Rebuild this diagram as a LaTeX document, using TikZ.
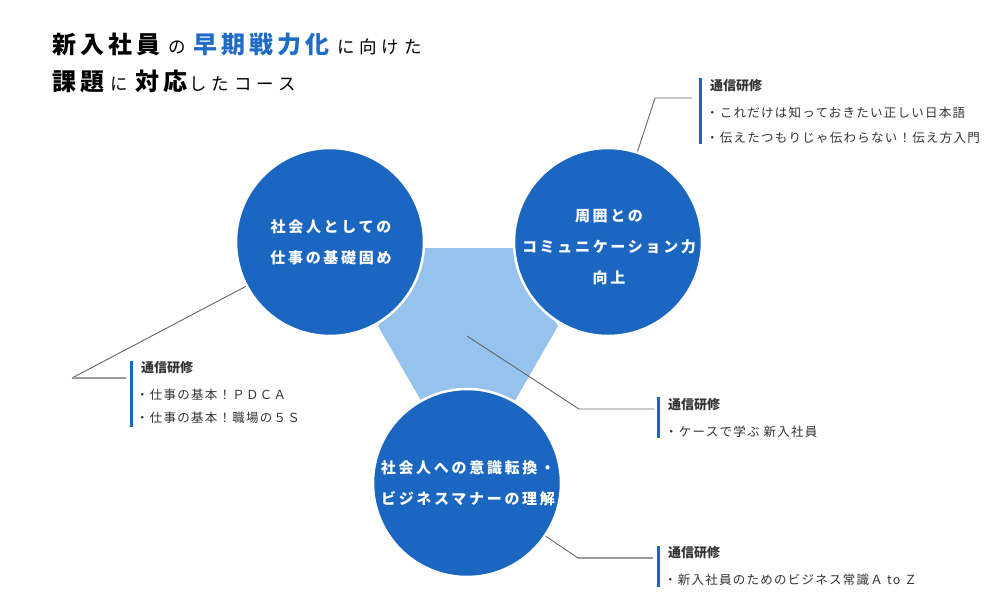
\documentclass[tikz,border=0pt]{standalone}
\usepackage{fontspec}
\setmainfont{Noto Sans CJK JP}
\newfontfamily\jpfont{Noto Sans CJK JP}
\newfontfamily\jpsp[LetterSpace=10]{Noto Sans CJK JP}
\newfontfamily\jpcirc[LetterSpace=18]{Noto Sans CJK JP}
\newfontfamily\jpbig[LetterSpace=17]{Noto Sans CJK JP}
\newfontfamily\jpsmall[LetterSpace=28]{Noto Sans CJK JP}
\usetikzlibrary{calc}
\definecolor{cblue}{HTML}{1B66C1}
\definecolor{hexblue}{HTML}{96C2EE}
\definecolor{tblue}{HTML}{1F6CC8}
\definecolor{txt}{HTML}{333333}
\definecolor{ldark}{HTML}{666666}
\definecolor{llight}{HTML}{9A9A9A}
\newcommand{\bigt}[1]{{\jpbig\bfseries\fontsize{24}{24}\selectfont #1}}
\newcommand{\smallt}[1]{{\jpsmall\fontsize{17.5}{17.5}\selectfont #1}}
\begin{document}
\begin{tikzpicture}[x=1pt,y=-1pt,
 circ/.style={circle, fill=cblue, draw=white, line width=2.5pt, minimum size=188pt, inner sep=0pt},
 ctext/.style={text=white, align=center, font=\jpcirc\bfseries\fontsize{15}{31}\selectfont, inner sep=0pt},
 head/.style={anchor=west, text=txt, font=\jpfont\bfseries\fontsize{13}{13}\selectfont, inner sep=0pt},
 item/.style={anchor=west, text=txt, font=\jpsp\fontsize{12.5}{12.5}\selectfont, inner sep=0pt},
 bar/.style={draw=cblue, line width=3pt},
 conn/.style={draw=ldark, line width=0.9pt},
 connl/.style={draw=llight, line width=1.2pt},
]
\useasboundingbox[fill=white] (0,0) rectangle (1000,600);

% title
\node[anchor=west, inner sep=0pt] (title1) at (52,44) {\bigt{新入社員}\hspace{8.2pt}\smallt{の}\hspace{7pt}\textcolor{tblue}{\bigt{早期戦力化}}\hspace{7.6pt}\smallt{に向けた}};
\node[anchor=west, inner sep=0pt] (title2) at (52,81) {\bigt{課題}\hspace{6.3pt}\smallt{に}\hspace{7pt}\bigt{対応}\hspace{2.3pt}\smallt{したコース}};

% hexagon
\fill[hexblue] (558,326) -- (513,248) -- (423,248) -- (378,326) -- (423,404) -- (513,404) -- cycle;

% circles
\node[circ] (c1) at (330,242) {};
\node[circ] (c2) at (608,242) {};
\node[circ] (c3) at (467,483) {};
\node[ctext] (t1) at (331,242) {社会人としての\\仕事の基礎固め};
\node[ctext] (t2) at (609,247) {周囲との\\コミュニケーション力\\向上};
\node[ctext] (t3) at (468,483) {社会人への意識転換・\\ビジネスマナーの理解};

% connectors
\coordinate (e1) at (72,378);
\coordinate (h1) at (126,378);
\draw[conn] (c1) -- (e1);
\draw[connl] (e1) -- (h1);

\coordinate (e2) at (655,98);
\coordinate (h2) at (692,98);
\draw[conn] (c2) -- (e2) -- (h2);

\coordinate (s3) at (467,336);
\coordinate (e3) at (579,409);
\coordinate (h3) at (654,409);
\draw[conn] (s3) -- (e3) -- (h3);

\coordinate (e4) at (578,558);
\coordinate (h4) at (653,558);
\draw[conn] (c3) -- (e4);
\draw[connl] (e4) -- (h4);

% bars
\coordinate (b1a) at (700,78);   \coordinate (b1b) at (700,144);
\coordinate (b2a) at (131.5,361); \coordinate (b2b) at (131.5,427);
\coordinate (b3a) at (658.5,397); \coordinate (b3b) at (658.5,438);
\coordinate (b4a) at (658.5,546); \coordinate (b4b) at (658.5,587);
\draw[bar] (b1a) -- (b1b);
\draw[bar] (b2a) -- (b2b);
\draw[bar] (b3a) -- (b3b);
\draw[bar] (b4a) -- (b4b);

% labels
\node[head] (l1h) at (710,86) {通信研修};
\node[item] (l1a) at (706,113) {・これだけは知っておきたい正しい日本語};
\node[item] (l1b) at (706,138) {・伝えたつもりじゃ伝わらない！伝え方入門};

\node[head] (l2h) at (141,368) {通信研修};
\node[item] (l2a) at (136,395) {・仕事の基本！ＰＤＣＡ};
\node[item] (l2b) at (136,418) {・仕事の基本！職場の５Ｓ};

\node[head] (l3h) at (668,405) {通信研修};
\node[item] (l3a) at (665,432) {・ケースで学ぶ 新入社員};

\node[head] (l4h) at (668,553) {通信研修};
\node[item] (l4a) at (664,580) {・新入社員のためのビジネス常識Ａ to Ｚ};
\end{tikzpicture}
\end{document}
